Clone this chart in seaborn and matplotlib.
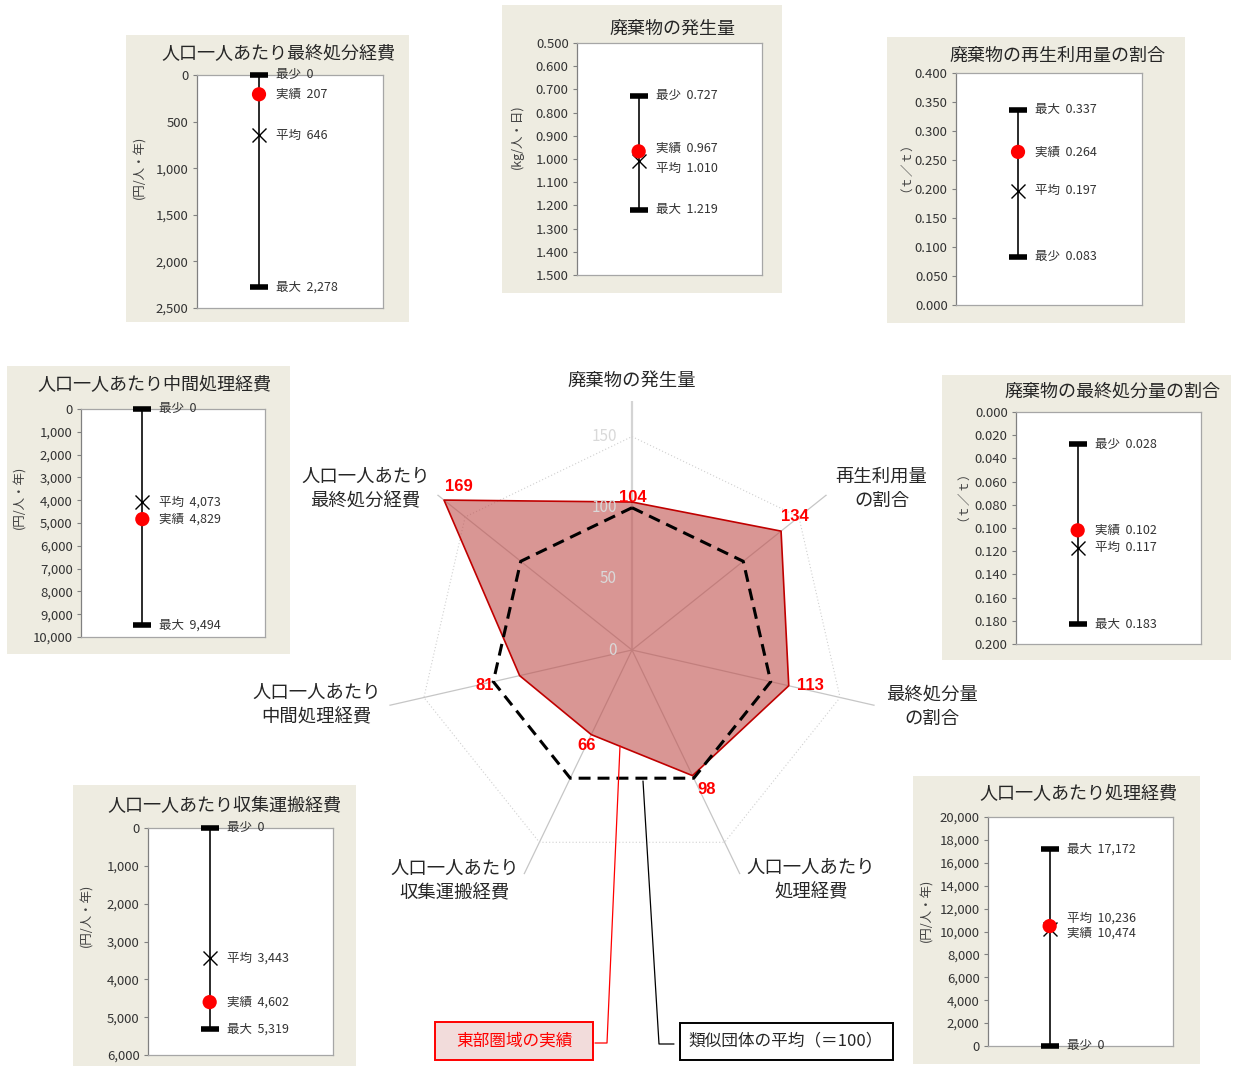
import numpy as np
import pandas as pd
import matplotlib
matplotlib.use("Agg")
import matplotlib.pyplot as plt
import seaborn as sns
from matplotlib.patches import Rectangle
from matplotlib.lines import Line2D
from matplotlib import font_manager

# ---------------------------------------------------------------- data
radar_labels = ["廃棄物の発生量", "再生利用量\nの割合", "最終処分量\nの割合",
                "人口一人あたり\n処理経費", "人口一人あたり\n収集運搬経費",
                "人口一人あたり\n中間処理経費", "人口一人あたり\n最終処分経費"]
radar_actual = [104, 134, 113, 98, 66, 81, 169]
radar_average = [100, 100, 100, 100, 100, 100, 100]
radar_ticks = [0, 50, 100, 150]

panel_titles = ["人口一人あたり最終処分経費", "廃棄物の発生量", "廃棄物の再生利用量の割合",
                "人口一人あたり中間処理経費", "廃棄物の最終処分量の割合",
                "人口一人あたり収集運搬経費", "人口一人あたり処理経費"]
panel_units = ["(円/人・年)", "(kg/人・日)", "（ｔ／ｔ）", "(円/人・年)",
               "（ｔ／ｔ）", "(円/人・年)", "(円/人・年)"]
panel_min = [0, 0.727, 0.083, 0, 0.028, 0, 0]
panel_actual = [207, 0.967, 0.264, 4829, 0.102, 4602, 10474]
panel_avg = [646, 1.010, 0.197, 4073, 0.117, 3443, 10236]
panel_max = [2278, 1.219, 0.337, 9494, 0.183, 5319, 17172]
panel_ylim = [(0, 2500), (0.5, 1.5), (0, 0.4), (0, 10000), (0, 0.2), (0, 6000), (0, 20000)]
panel_step = [500, 0.1, 0.05, 1000, 0.02, 1000, 2000]
panel_inverted = [True, True, False, True, True, True, False]
panel_decimals = [0, 3, 3, 0, 3, 0, 0]

legend_actual = "東部圏域の実績"
legend_average = "類似団体の平均（＝100）"

# ---------------------------------------------------------------- style
sns.set_style("white")
plt.rcParams["font.family"] = ["Noto Sans CJK JP", "DejaVu Sans"]
_names = {f.name for f in font_manager.fontManager.ttflist}
NUM_FONT = "Liberation Sans Narrow" if "Liberation Sans Narrow" in _names else "Liberation Sans"

W, H = 1234, 1066
fig = plt.figure(figsize=(W / 100, H / 100), dpi=100)
fig.patch.set_facecolor("white")
PX = 72 / 100  # points per pixel


def fx(x):
    return x / W


def fy(y):
    return 1 - y / H


def rect(x0, y0, x1, y1):
    return [fx(x0), fy(y1), (x1 - x0) / W, (y1 - y0) / H]


BEIGE = "#eeece1"
TXT = "#262626"

# ---------------------------------------------------------------- radar
n = len(radar_labels)
theta = np.arange(n) * 2 * np.pi / n
theta_c = np.append(theta, theta[0])
r_max = 175

rax = fig.add_axes(rect(383, 401, 881, 899), projection="polar")
rax.set_theta_zero_location("N")
rax.set_theta_direction(-1)
rax.set_ylim(0, r_max)
rax.set_xticks([])
rax.set_yticks([])
rax.grid(False)
rax.spines["polar"].set_visible(False)
rax.set_facecolor("none")

for i, t in enumerate(theta):
    rax.plot([t, t], [0, r_max], color="#c6c6c6" if i else "#d4d4d4",
             lw=0.9 if i else 1.6, zorder=1, solid_capstyle="butt")
rax.plot(theta_c, [radar_ticks[-1]] * (n + 1), color="#d0d0d0", lw=0.8,
         ls=(0, (1, 2)), zorder=1)

act_c = np.append(radar_actual, radar_actual[0])
avg_c = np.append(radar_average, radar_average[0])
rax.fill(theta_c, act_c, color="#c0504d", alpha=0.6, lw=0, zorder=2)
rax.plot(theta_c, act_c, color="#c00000", lw=1.2, zorder=3)
rax.plot(theta_c, avg_c, color="black", lw=2.2, ls=(0, (3.9, 2.3)), zorder=4)

for v in radar_ticks:
    rax.annotate(str(v), xy=(0, v), xytext=(-15 * PX, 0), textcoords="offset points",
                 ha="right", va="center", fontsize=11, color="#d9d9d9", zorder=5)

value_offsets = [(1, -5), (14, -15), (22, 0), (14, 14), (-5, 11), (-35, 10), (15, -14)]
for t, v, (dx, dy) in zip(theta, radar_actual, value_offsets):
    rax.annotate(str(v), xy=(t, v), xytext=(dx * PX, -dy * PX), textcoords="offset points",
                 ha="center", va="center", fontsize=12, color="#ff0000",
                 fontweight="bold", family=[NUM_FONT, "DejaVu Sans"], zorder=6,
                 annotation_clip=False)

label_offsets = [(0, -20), (55, -6), (57, 1), (71, 6), (-69, 7), (-73, 0), (-72, -6)]
for t, lab, (dx, dy) in zip(theta, radar_labels, label_offsets):
    rax.annotate(lab, xy=(t, r_max), xytext=(dx * PX, -dy * PX), textcoords="offset points",
                 ha="center", va="center", fontsize=13.2, color=TXT,
                 multialignment="center", linespacing=1.45, annotation_clip=False)

# legend boxes and leaders
fig.add_artist(Line2D([fx(620), fx(607), fx(595)], [fy(746), fy(1043), fy(1043)],
                      color="#ff0000", lw=0.9))
fig.add_artist(Line2D([fx(643), fx(659), fx(674)], [fy(781), fy(1044), fy(1044)],
                      color="black", lw=0.9))
fig.add_artist(Rectangle((fx(435), fy(1060)), 158 / W, 38 / H, facecolor="#f2dcdb",
                         edgecolor="#ff0000", lw=1.4, transform=fig.transFigure))
fig.text(fx(514), fy(1041), legend_actual, ha="center", va="center",
         fontsize=12, color="#ff0000")
fig.add_artist(Rectangle((fx(680), fy(1060)), 213 / W, 37 / H, facecolor="white",
                         edgecolor="black", lw=1.4, transform=fig.transFigure))
fig.text(fx(786), fy(1041), legend_average, ha="center", va="center",
         fontsize=12, color=TXT)

# ---------------------------------------------------------------- small panels
layout = [
    dict(box=(126, 35, 409, 322), plot=(197, 75, 383, 308), title=(278, 54), unit=(140, 167)),
    dict(box=(502, 5, 782, 293), plot=(577, 43, 762, 275), title=(672, 29), unit=(517, 137)),
    dict(box=(887, 37, 1185, 323), plot=(956, 73, 1142, 305), title=(1057, 56), unit=(900, 161)),
    dict(box=(7, 366, 290, 654), plot=(81, 409, 265, 637), title=(154, 385), unit=(20, 497)),
    dict(box=(942, 375, 1231, 660), plot=(1016, 412, 1201, 644), title=(1112, 392), unit=(957, 490)),
    dict(box=(73, 785, 356, 1066), plot=(148, 828, 333, 1055), title=(224, 806), unit=(87, 915)),
    dict(box=(913, 776, 1200, 1064), plot=(988, 817, 1173, 1046), title=(1078, 794), unit=(927, 910)),
]
# pixel nudges for labels that would otherwise overlap: (actual, average)
label_nudge = {1: (-3, 7), 6: (7, -11)}


def fmt(v, d):
    return f"{v:,.0f}" if d == 0 else f"{v:.{d}f}"


for k, lay in enumerate(layout):
    bx = fig.add_axes(rect(*lay["box"]))
    bx.set_facecolor(BEIGE)
    bx.set_xticks([])
    bx.set_yticks([])
    for s in bx.spines.values():
        s.set_visible(False)

    ax = fig.add_axes(rect(*lay["plot"]))
    ax.set_facecolor("white")
    lo, hi = panel_ylim[k]
    step = panel_step[k]
    d = panel_decimals[k]
    ticks = np.arange(lo, hi + step / 2, step)
    ax.set_xlim(0, 3)
    ax.set_ylim(lo, hi)
    if panel_inverted[k]:
        ax.invert_yaxis()
    ax.set_yticks(ticks)
    ax.set_yticklabels([fmt(t, d) for t in ticks])
    ax.set_xticks([])
    ax.tick_params(axis="y", direction="out", length=3, width=0.8, color="#808080",
                   pad=3, labelsize=9.5, labelcolor="#333333", left=True)
    for s in ax.spines.values():
        s.set_color("#a6a6a6")
        s.set_linewidth(0.9)
    ax.spines["left"].set_color("#808080")

    x0 = 1
    ax.plot([x0, x0], [panel_min[k], panel_max[k]], color="#1a1a1a", lw=1.3, zorder=2)
    ax.plot([x0, x0], [panel_min[k], panel_max[k]], ls="none", marker="_",
            markersize=13, markeredgewidth=4, color="black", zorder=3, clip_on=False)
    ax.plot([x0], [panel_avg[k]], ls="none", marker="x", markersize=10,
            markeredgewidth=1.0, color="black", zorder=4)
    sns.scatterplot(x=[x0], y=[panel_actual[k]], ax=ax, color="#ff0000", s=105,
                    edgecolor="none", zorder=5, legend=False)
    ax.set_xlabel("")
    ax.set_ylabel("")
    ax.set_xlim(0, 3)

    nud = label_nudge.get(k, (0, 0))
    items = [("最少", panel_min[k], 0), ("最大", panel_max[k], 0),
             ("実績", panel_actual[k], nud[0]), ("平均", panel_avg[k], nud[1])]
    for name, v, dy in items:
        ax.annotate(f"{name}  {fmt(v, d)}", xy=(x0, v), xytext=(17 * PX, -dy * PX),
                    textcoords="offset points", ha="left", va="center",
                    fontsize=9, color="#333333", annotation_clip=False)

    tx, ty = lay["title"]
    fig.text(fx(tx), fy(ty), panel_titles[k], ha="center", va="center",
             fontsize=13, color=TXT)
    ux, uy = lay["unit"]
    fig.text(fx(ux), fy(uy), panel_units[k], ha="center", va="center",
             rotation=90, fontsize=9, color="#404040")

fig.savefig("out.png", dpi=100, facecolor="white")
